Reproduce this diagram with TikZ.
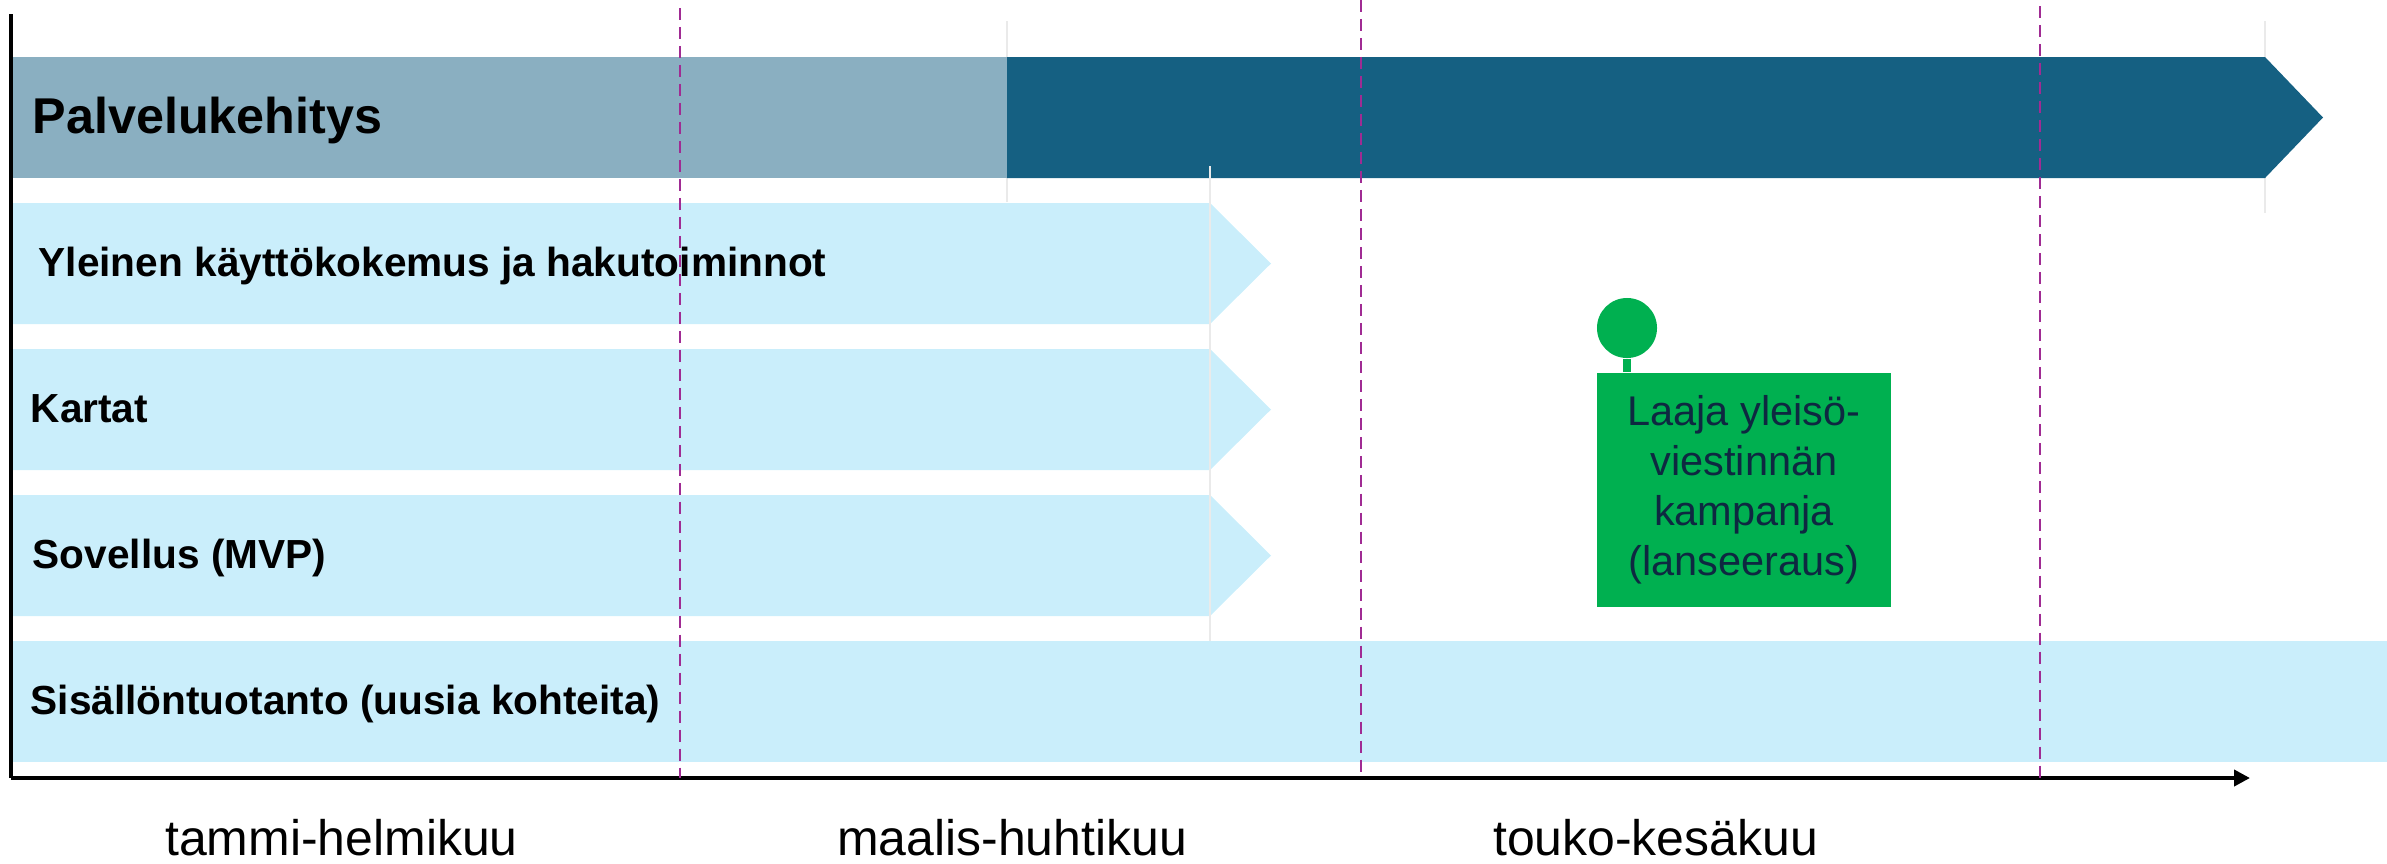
\documentclass[tikz,border=0pt]{standalone}
\usepackage{fontspec}
\setmainfont{Liberation Sans}
\usetikzlibrary{positioning}
\usetikzlibrary{arrows.meta}
\definecolor{tealdark}{HTML}{156082}
\definecolor{teallight}{HTML}{8AAFC1}
\definecolor{rowblue}{HTML}{CAEEFB}
\definecolor{splitpurple}{HTML}{A02B93}
\definecolor{launchgreen}{HTML}{00B050}
\definecolor{navytext}{HTML}{0E2841}
\definecolor{faintgrid}{HTML}{EAEAEA}
\tikzset{
    rowbar/.style = {fill=rowblue},
    rowlabel/.style = {anchor=base west, inner sep=0pt, font=\fontsize{11.55pt}{13pt}\selectfont\bfseries},
    headlabel/.style = {anchor=base west, inner sep=0pt, font=\fontsize{14.3pt}{16pt}\selectfont\bfseries},
    monthlabel/.style = {anchor=base, inner sep=0pt, font=\fontsize{14.2pt}{16pt}\selectfont},
    milestone/.style = {rectangle, fill=launchgreen, inner sep=0pt, minimum width=2.94cm, minimum height=2.34cm,
                        align=center, text=navytext, font=\fontsize{11.8pt}{14.2pt}\selectfont},
    pinhead/.style = {circle, fill=launchgreen, inner sep=0pt, minimum size=0.6cm},
    splitline/.style = {draw=splitpurple, line width=0.75pt, dash pattern=on 3.4pt off 2pt},
    axisline/.style = {line width=1.1pt, -{Triangle[length=4.5pt,width=4.5pt]}},
    faint/.style = {draw=faintgrid, line width=0.3pt}
}

\begin{document}
\begin{tikzpicture}[x=0.01cm, y=-0.01cm]
  \useasboundingbox (0,0) rectangle (2387,863);

  % faint guide lines
  \draw[faint] (1007,21) -- (1007,202);
  \draw[faint] (2265,21) -- (2265,213);

  % head bar
  \fill[teallight] (12,57) rectangle (1007,178);
  \fill[tealdark] (1007,57) -- (2265,57) -- (2323,117.5) -- (2265,178) -- (1007,178) -- cycle;
  \node[headlabel] (palvelu) at (32,133) {Palvelukehitys};

  % rows with chevron
  \foreach \top in {203,349,495}
    \fill[rowbar] (12,\top) -- (1210,\top) -- (1271,\top+60.5) -- (1210,\top+121) -- (12,\top+121) -- cycle;
  \fill[rowbar] (12,641) rectangle (2387,762);
  \draw[faint] (1210,166) -- (1210,641);

  \node[rowlabel] (haku)     at (38,276.5) {Yleinen käyttökokemus ja hakutoiminnot};
  \node[rowlabel] (kartat)   at (30,422.5) {Kartat};
  \node[rowlabel] (sovellus) at (32,568.5) {Sovellus (MVP)};
  \node[rowlabel] (sisalto)  at (30,714.5) {Sisällöntuotanto (uusia kohteita)};

  % milestone
  \node[milestone] (launch) at (1744,490) {Laaja yleisö-\\viestinnän\\kampanja\\(lanseeraus)};
  \node[pinhead] (pin) at (1627,328) {};
  \draw[launchgreen, line width=2.2pt] (pin.south) -- (pin.south |- launch.north);

  % axes
  \coordinate (origin) at (11,778);
  \coordinate (ytop) at (11,14);
  \coordinate (xend) at (2250,778);
  \draw[line width=1pt] (origin) -- (ytop);
  \draw[axisline] (origin) -- (xend);

  % period splits
  \foreach \x/\t in {680/8, 1361/0, 2040/6}
    \draw[splitline] (\x,\t) -- (\x,778);

  \node[monthlabel] (tammi)  at (341.5,855) {tammi-helmikuu};
  \node[monthlabel] (maalis) at (1012,855) {maalis-huhtikuu};
  \node[monthlabel] (touko)  at (1655.5,855) {touko-kesäkuu};
\end{tikzpicture}
\end{document}
